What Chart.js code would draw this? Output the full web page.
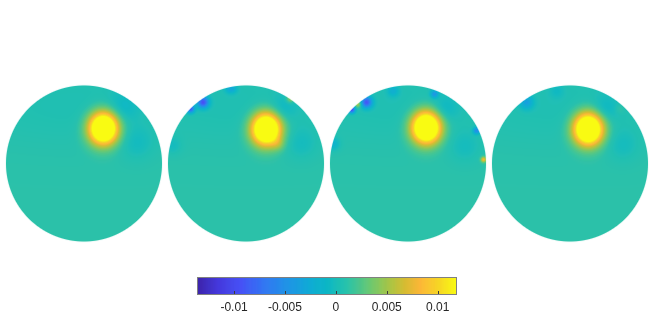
<html lang="en">

<head>
    <meta charset="UTF-8" />
    <title>Field maps</title>
</head>
<style>
    body {
        margin: 0;
        background: #fff;
    }

    .wrap {
        position: relative;
        width: 654px;
        height: 327px;
    }

    #barChart {
        position: absolute;
        left: 197px;
        top: 277px;
    }
</style>

<body>
<div class="wrap">
    <canvas id="diskChart" width="654" height="327"></canvas>
    <canvas id="barChart" width="260" height="41"></canvas>
</div>

<script src="https://cdn.jsdelivr.net/npm/chart.js"></script>

<script>
    // colour limits of the colorbar and its ticks
    const colorLimits = [-0.01364, 0.0119];
    const cbTicks = [-0.01, -0.005, 0, 0.005, 0.01];
    const cbTickLabels = ['-0.01', '-0.005', '0', '0.005', '0.01'];

    // background level of each panel
    const baseLevel = [0.0012, 0.0012, 0.0012, 0.0012];

    // blobs: [u, v, amplitude, sigmaU, sigmaV]
    // u, v in disk radius units, v pointing up
    const panel1 = [
        [0.25, 0.45, 0.021, 0.128, 0.14],
        [0.0, 0.75, -0.0008, 1.2, 0.35],
        [0.5, 0.72, -0.0015, 0.13, 0.13],
        [0.68, 0.26, -0.0013, 0.15, 0.15],
    ];
    const panel2 = [
        [0.26, 0.44, 0.021, 0.128, 0.14],
        [0.0, 0.75, -0.0008, 1.2, 0.35],
        [-0.55, 0.785, -0.010, 0.05, 0.05],
        [-0.71, 0.70, -0.009, 0.035, 0.035],
        [-0.19, 0.955, -0.0035, 0.05, 0.04],
        [0.57, 0.83, 0.004, 0.035, 0.035],
        [0.47, 0.70, -0.0014, 0.11, 0.11],
        [0.71, 0.25, -0.0012, 0.14, 0.14],
        [-0.94, 0.23, -0.0013, 0.08, 0.08],
        [0.41, 0.25, 0.002, 0.06, 0.06],
    ];
    const panel3 = [
        [0.235, 0.46, 0.021, 0.128, 0.14],
        [0.0, 0.75, -0.0008, 1.2, 0.35],
        [-0.53, 0.785, -0.0095, 0.05, 0.05],
        [-0.64, 0.76, 0.005, 0.03, 0.03],
        [-0.72, 0.69, -0.010, 0.03, 0.03],
        [-0.19, 0.93, -0.0025, 0.05, 0.05],
        [0.34, 0.89, -0.005, 0.035, 0.035],
        [0.47, 0.70, -0.0015, 0.11, 0.11],
        [0.88, 0.42, -0.006, 0.03, 0.03],
        [0.97, 0.05, 0.007, 0.025, 0.025],
        [0.73, 0.21, -0.0012, 0.14, 0.14],
        [-0.96, 0.25, -0.0025, 0.06, 0.06],
    ];
    const panel4 = [
        [0.235, 0.44, 0.021, 0.128, 0.14],
        [0.0, 0.75, -0.0008, 1.2, 0.35],
        [-0.555, 0.785, -0.004, 0.06, 0.06],
        [0.45, 0.70, -0.0015, 0.11, 0.11],
        [0.64, 0.70, 0.001, 0.04, 0.04],
        [0.68, 0.23, -0.0012, 0.14, 0.14],
        [-0.17, 0.93, -0.0012, 0.06, 0.06],
    ];
    const panels = [panel1, panel2, panel3, panel4];

    // layout (pixels)
    const R = 78;
    const CY = 163.5;
    const CX = [84, 246, 408, 570];

    // parula-like colour ramp
    const ramp = [
        [0.00, 62, 38, 168],
        [0.08, 70, 58, 220],
        [0.17, 72, 84, 246],
        [0.26, 52, 120, 242],
        [0.34, 36, 146, 232],
        [0.42, 20, 168, 216],
        [0.50, 14, 184, 198],
        [0.58, 44, 195, 170],
        [0.66, 104, 200, 118],
        [0.74, 168, 198, 72],
        [0.80, 214, 188, 52],
        [0.86, 252, 184, 58],
        [0.93, 246, 214, 40],
        [1.00, 249, 251, 20],
    ];

    function colorOf(val, alpha) {
        let f = (val - colorLimits[0]) / (colorLimits[1] - colorLimits[0]);
        f = Math.max(0, Math.min(1, f));
        let i = 0;
        while (i < ramp.length - 2 && f > ramp[i + 1][0]) i++;
        const a = ramp[i], b = ramp[i + 1];
        const t = (f - a[0]) / (b[0] - a[0]);
        const c = [1, 2, 3].map(k => Math.round(a[k] + (b[k] - a[k]) * t));
        return 'rgba(' + c[0] + ',' + c[1] + ',' + c[2] + ',' + alpha + ')';
    }

    function fieldAt(p, u, v) {
        let val = baseLevel[p];
        panels[p].forEach(bl => {
            const du = (u - bl[0]) / bl[3], dv = (v - bl[1]) / bl[4];
            val += bl[2] * Math.exp(-0.5 * (du * du + dv * dv));
        });
        return val;
    }

    const diskSets = panels.map((pan, p) => {
        const pts = [], cols = [];
        for (let y = Math.floor(CY - R - 1); y <= CY + R + 1; y++) {
            for (let x = CX[p] - R - 1; x <= CX[p] + R + 1; x++) {
                const px = x + 0.5, py = y + 0.5;
                const d = Math.hypot(px - CX[p], py - CY);
                if (d > R + 0.5) continue;
                const alpha = Math.min(1, R + 0.5 - d);
                const u = (px - CX[p]) / R, v = (CY - py) / R;
                pts.push({x: px, y: py});
                cols.push(colorOf(fieldAt(p, u, v), alpha.toFixed(2)));
            }
        }
        return {
            label: 'Panel ' + (p + 1),
            data: pts,
            backgroundColor: cols,
            borderWidth: 0,
            pointStyle: 'rect',
            pointRadius: 0.8,
        };
    });

    new Chart(document.getElementById('diskChart'), {
        type: 'scatter',
        data: {datasets: diskSets},
        options: {
            responsive: false,
            animation: false,
            events: [],
            parsing: false,
            normalized: true,
            layout: {padding: 0, autoPadding: false},
            plugins: {legend: {display: false}, tooltip: {enabled: false}},
            scales: {
                x: {type: 'linear', min: 0, max: 654, display: false},
                y: {type: 'linear', min: 0, max: 327, reverse: true, display: false},
            }
        }
    });

    // colorbar
    const barPts = [], barCols = [];
    const nCols = 260, nRows = 18;
    for (let i = 0; i < nCols; i++) {
        const val = colorLimits[0] + (i + 0.5) / nCols * (colorLimits[1] - colorLimits[0]);
        const c = colorOf(val, 1);
        for (let r = 0; r < nRows; r++) {
            barPts.push({x: val, y: r + 0.5});
            barCols.push(c);
        }
    }

    const boxPlugin = {
        id: 'box',
        afterDatasetsDraw(chart) {
            const ctx = chart.ctx, a = chart.chartArea, sx = chart.scales.x;
            ctx.save();
            ctx.strokeStyle = '#3c3c3c';
            ctx.lineWidth = 1;
            cbTicks.forEach(v => {
                const px = Math.round(sx.getPixelForValue(v)) + 0.5;
                ctx.beginPath();
                ctx.moveTo(px, a.bottom - 1);
                ctx.lineTo(px, a.bottom - 4);
                ctx.stroke();
            });
            ctx.strokeStyle = '#808080';
            ctx.strokeRect(a.left + 0.5, a.top + 0.5, a.width - 1, a.height - 1);
            ctx.restore();
        }
    };

    new Chart(document.getElementById('barChart'), {
        type: 'scatter',
        data: {
            datasets: [{
                label: 'colorbar',
                data: barPts,
                backgroundColor: barCols,
                borderWidth: 0,
                pointStyle: 'rect',
                pointRadius: 1,
            }]
        },
        options: {
            responsive: false,
            animation: false,
            events: [],
            parsing: false,
            normalized: true,
            layout: {padding: 0, autoPadding: false},
            plugins: {legend: {display: false}, tooltip: {enabled: false}},
            scales: {
                x: {
                    type: 'linear',
                    min: colorLimits[0],
                    max: colorLimits[1],
                    grid: {display: false, drawTicks: false},
                    border: {display: false},
                    afterBuildTicks: axis => {
                        axis.ticks = cbTicks.map(v => ({value: v}));
                    },
                    afterFit: axis => {
                        axis.height = 23;
                    },
                    ticks: {
                        padding: 5,
                        maxRotation: 0,
                        autoSkip: false,
                        color: '#262626',
                        font: {family: 'Liberation Sans', size: 12},
                        callback: (v, i) => cbTickLabels[i]
                    }
                },
                y: {type: 'linear', min: 0, max: nRows, display: false}
            }
        },
        plugins: [boxPlugin]
    });
</script>
</body>

</html>
